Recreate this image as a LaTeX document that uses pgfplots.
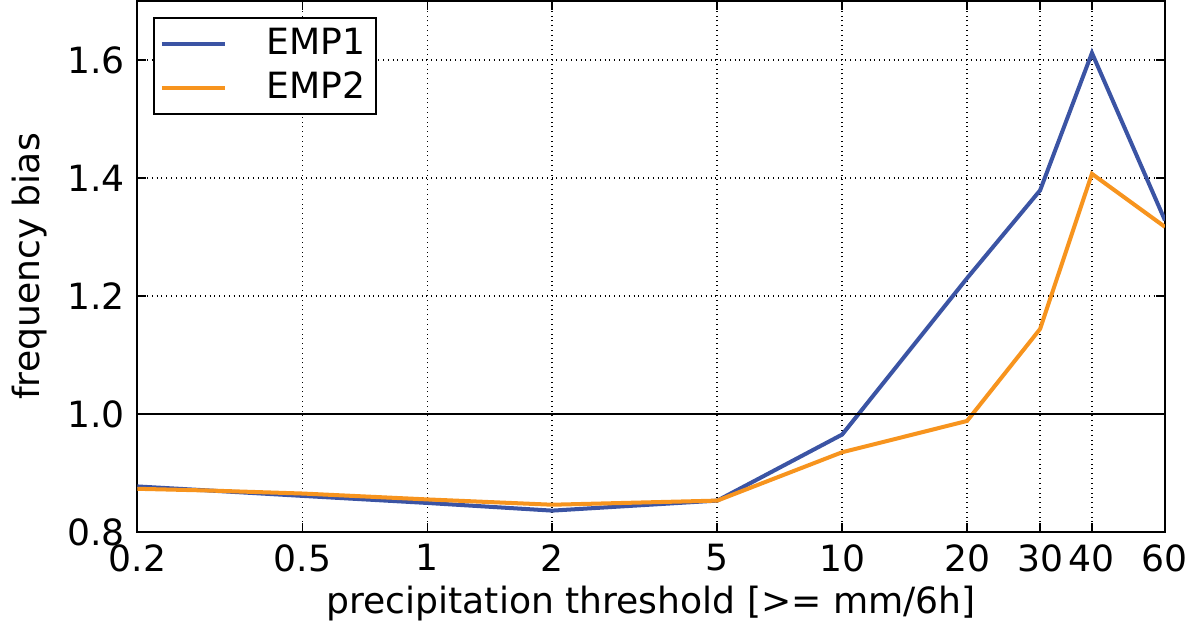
\documentclass[border=0pt]{standalone}
\usepackage{pgfplots}
\pgfplotsset{compat=1.18}
\usepackage{fontspec}
\setmainfont{DejaVu Sans}
\begin{document}
\fontsize{18}{21}\selectfont
\begin{tikzpicture}
\begin{axis}[
  xmode=log, width=512pt, height=264.5pt, scale only axis,
  xmin=0.2, xmax=60, ymin=0.8, ymax=1.7,
  xtick={0.2,0.5,1,2,5,10,20,30,40,60},
  xticklabels={0.2,0.5,1,2,5,10,20,30,40,60},
  minor xtick={},
  ytick={0.8,1.0,1.2,1.4,1.6},
  yticklabels={0.8,1.0,1.2,1.4,1.6},
  grid=major, major grid style={black, dotted, line width=0.8pt},
  axis line style={line width=1pt},
  tick style={black, line width=0.8pt},
  tick align=inside,
  xlabel={precipitation threshold [>= mm/6h]},
  ylabel={frequency bias},
  xlabel style={yshift=5pt}, ylabel style={yshift=-2pt},
  legend pos=north west,
  legend style={draw=black, line width=1pt, font=\fontsize{18}{21}\selectfont, inner sep=3pt, row sep=2pt, legend cell align=left, at={(0.015,0.97)}},
  legend image code/.code={\draw[#1, line width=2pt] (0cm,0cm) -- (1.1cm,0cm);},
]
\addplot[color={rgb,255:red,59;green,84;blue,164}, line width=2pt] coordinates {
(0.2,0.877) (0.3,0.870) (0.5,0.861) (1,0.849) (2,0.836) (5,0.853) (10,0.965) (20,1.23) (30,1.379) (40,1.612) (60,1.328)};
\addlegendentry{\quad EMP1}
\addplot[color={rgb,255:red,247;green,148;blue,30}, line width=2pt] coordinates {
(0.2,0.873) (0.3,0.870) (0.5,0.865) (1,0.855) (2,0.846) (5,0.853) (10,0.935) (20,0.988) (30,1.144) (40,1.407) (60,1.317)};
\addlegendentry{\quad EMP2}
\draw[black, line width=1.2pt] (axis cs:0.2,1.0) -- (axis cs:60,1.0);
\end{axis}
\end{tikzpicture}
\end{document}
